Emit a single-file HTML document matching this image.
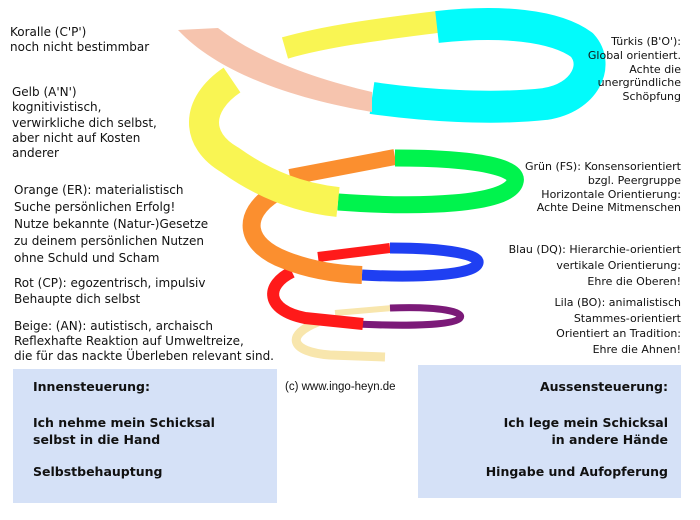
<!DOCTYPE html>
<html><head><meta charset="utf-8"><style>
body{margin:0;width:700px;height:520px;background:#fff;position:relative;overflow:hidden;font-family:"DejaVu Sans","Liberation Sans",sans-serif;font-size:12px;color:#111}
.t{position:absolute;line-height:15px;white-space:nowrap}
.r{text-align:right}
.box{position:absolute;background:#d5e1f7}
.b{font-weight:bold;font-size:12.5px;line-height:17px}
</style></head><body>
<svg width="700" height="520" style="position:absolute;left:0;top:0" fill="none" stroke-linecap="butt">
<path d="M318,322 C285,335 290,352 330,355 L385,357" stroke="#f8e6ad" stroke-width="9"/>
<path d="M335,313 L392,308" stroke="#f8e6ad" stroke-width="6"/>
<path d="M390,308 C440,306 465,312 460,318 C455,326 400,326 355,324" stroke="#7b1a78" stroke-width="7"/>
<path d="M292,272 C265,285 265,310 305,318 L363,324" stroke="#ff1a1a" stroke-width="12"/>
<path d="M318,257 L390,248" stroke="#ff1a1a" stroke-width="10"/>
<path d="M390,248 C450,248 480,255 478,263 C475,275 420,278 362,275" stroke="#1f3ff2" stroke-width="11"/>
<path d="M275,193 C240,215 245,245 285,260 C310,270 335,274 362,275" stroke="#fb8f2f" stroke-width="18"/>
<path d="M290,177 L395,157" stroke="#fb8f2f" stroke-width="16"/>
<path d="M395,158 C480,158 520,168 515,182 C508,205 420,208 338,202" stroke="#00f34d" stroke-width="17"/>
<path d="M232,80 C195,105 195,140 230,160 C265,185 300,198 338,202" stroke="#f9f553" stroke-width="30"/>
<path d="M285,48 C330,35 390,28 437,22" stroke="#f9f553" stroke-width="22"/>
<path d="M437,27 C500,20 555,25 582,45 C600,65 585,98 545,104 C490,110 420,105 372,98" stroke="#02fbfb" stroke-width="32"/>
<path d="M178,30 L218,28 C260,60 320,80 372,92 L372,112 C300,100 220,75 178,30 Z" fill="#f6c4ae" stroke="none"/>
</svg>

<div class="t" style="left:10px;top:25px">Koralle (C'P')<br>noch nicht bestimmbar</div>
<div class="t" style="left:12px;top:85px;line-height:15.3px">Gelb (A'N')<br>kognitivistisch,<br>verwirkliche dich selbst,<br>aber nicht auf Kosten<br>anderer</div>
<div class="t" style="left:14px;top:182px;line-height:17px">Orange (ER): materialistisch<br>Suche persönlichen Erfolg!<br>Nutze bekannte (Natur-)Gesetze<br>zu deinem persönlichen Nutzen<br>ohne Schuld und Scham</div>
<div class="t" style="left:14px;top:275px;line-height:16px">Rot (CP): egozentrisch, impulsiv<br>Behaupte dich selbst</div>
<div class="t" style="left:14px;top:319px">Beige: (AN): autistisch, archaisch<br>Reflexhafte Reaktion auf Umweltreize,<br>die für das nackte Überleben relevant sind.</div>

<div class="t r" style="right:19px;top:35px;line-height:13.8px;font-size:11px">Türkis (B'O'):<br>Global orientiert.<br>Achte die<br>unergründliche<br>Schöpfung</div>
<div class="t r" style="right:19px;top:160px;line-height:13.8px;font-size:11px">Grün (FS): Konsensorientiert<br>bzgl. Peergruppe<br>Horizontale Orientierung:<br>Achte Deine Mitmenschen</div>
<div class="t r" style="right:19px;top:242px;line-height:16px;font-size:11px">Blau (DQ): Hierarchie-orientiert<br>vertikale Orientierung:<br>Ehre die Oberen!</div>
<div class="t r" style="right:19px;top:295px;line-height:15.7px;font-size:11px">Lila (BO): animalistisch<br>Stammes-orientiert<br>Orientiert  an Tradition:<br>Ehre die Ahnen!</div>

<div class="box" style="left:13px;top:369px;width:264px;height:134px"></div>
<div class="box" style="left:418px;top:365px;width:263px;height:133px"></div>
<div class="t b" style="left:33px;top:378px">Innensteuerung:</div>
<div class="t b" style="left:33px;top:414px">Ich nehme mein Schicksal<br>selbst in die Hand</div>
<div class="t b" style="left:33px;top:463px">Selbstbehauptung</div>
<div class="t b r" style="right:32px;top:378px">Aussensteuerung:</div>
<div class="t b r" style="right:32px;top:414px">Ich lege mein Schicksal<br>in andere Hände</div>
<div class="t b r" style="right:32px;top:463px">Hingabe und Aufopferung</div>
<div class="t" style="left:285px;top:380px;font-family:'Liberation Sans',sans-serif;font-size:11.5px">(c) www.ingo-heyn.de</div>
</body></html>
